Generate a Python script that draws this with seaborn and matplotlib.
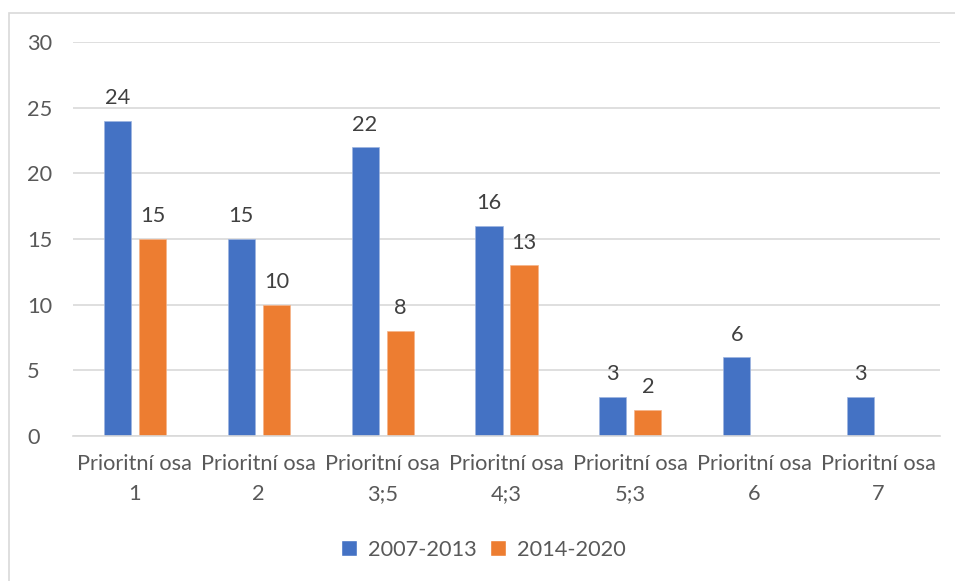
import pandas as pd
import numpy as np
import matplotlib
matplotlib.use("Agg")
import matplotlib.pyplot as plt
import seaborn as sns
from matplotlib.patches import Rectangle, Patch

# data
categories = ["Prioritní osa\n1", "Prioritní osa\n2", "Prioritní osa\n3;5", "Prioritní osa\n4;3",
              "Prioritní osa\n5;3", "Prioritní osa\n6", "Prioritní osa\n7"]
series = ["2007-2013", "2014-2020"]
vals_2007 = [24, 15, 22, 16, 3, 6, 3]
vals_2014 = [15, 10, 8, 13, 2, np.nan, np.nan]
colors = ["#4472C4", "#ED7D31"]

df = pd.DataFrame({
    "cat": categories * 2,
    "period": [series[0]] * 7 + [series[1]] * 7,
    "value": vals_2007 + vals_2014,
})

sns.set_theme(style="white")
plt.rcParams["font.family"] = ["Lato", "DejaVu Sans"]
fs = 15.7

fig = plt.figure(figsize=(9.55, 5.81), dpi=100)
ax = fig.add_axes([73/955, 1-436/581, 867/955, 394/581])

sns.barplot(data=df, x="cat", y="value", hue="period", order=categories, hue_order=series,
            palette=colors, saturation=1, width=0.566, gap=0.226, ax=ax, legend=False,
            edgecolor="#9DB4E0", linewidth=0.5)
# orange edge
for p in ax.containers[1]:
    p.set_edgecolor("#F5B48A")

ax.set_ylim(0, 30)
ax.set_xlim(-0.5, 6.5)
ax.set_yticks(range(0, 31, 5))
ax.yaxis.grid(True, color="#D9D9D9", linewidth=1.2)
ax.set_axisbelow(True)
for s in ["top", "right", "left"]:
    ax.spines[s].set_visible(False)
ax.spines["bottom"].set_color("#D9D9D9")
ax.spines["bottom"].set_linewidth(1.2)
ax.set_xlabel("")
ax.set_ylabel("")
ax.tick_params(axis="y", length=0, pad=33, labelsize=fs, labelcolor="#595959")
ax.tick_params(axis="x", length=0, pad=13, labelsize=fs, labelcolor="#595959")
for lbl in ax.get_yticklabels():
    lbl.set_horizontalalignment("left")
for lbl in ax.get_xticklabels():
    lbl.set_linespacing(1.6)

for cont in ax.containers:
    labels = ["" if np.isnan(v) else f"{v:g}" for v in cont.datavalues]
    ax.bar_label(cont, labels=labels, padding=9, fontsize=fs, color="#404040")

handles = [Patch(facecolor=c, label=s) for c, s in zip(colors, series)]
fig.legend(handles=handles, loc="center", bbox_to_anchor=(0.506, 0.054), ncol=2, frameon=False,
           fontsize=fs, labelcolor="#595959", handlelength=0.75, handleheight=0.75,
           columnspacing=0.6, handletextpad=0.5)

fig.patches.append(Rectangle((9/955, -0.1), 1.1, 1.1 - 13/581, transform=fig.transFigure,
                             fill=False, edgecolor="#D9D9D9", linewidth=1.2))

plt.savefig("out.png", dpi=100)
